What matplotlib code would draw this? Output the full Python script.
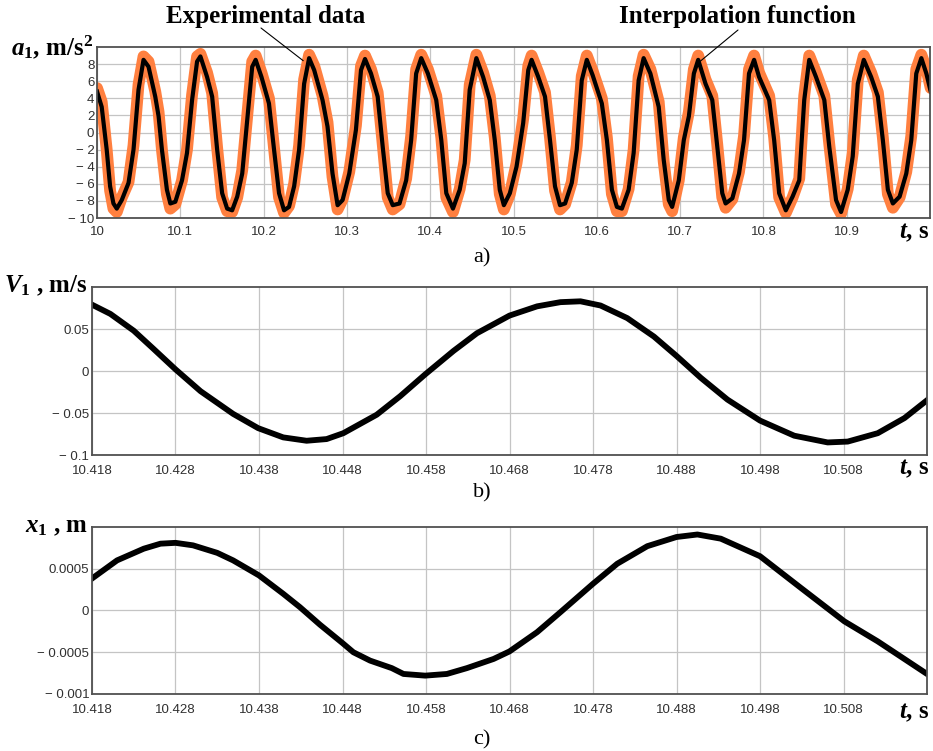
import matplotlib
matplotlib.use("Agg")
import matplotlib.pyplot as plt

plt.rcParams["mathtext.fontset"] = "custom"
plt.rcParams["mathtext.rm"] = "Liberation Serif:bold"
plt.rcParams["mathtext.it"] = "Liberation Serif:italic:bold"
plt.rcParams["mathtext.bf"] = "Liberation Serif:bold"

# ---- a) acceleration: interpolation function (black) and experimental data (orange)
t_acc = [10.0000, 10.0056, 10.0116, 10.0157, 10.0197, 10.0237, 10.0297, 10.0378, 10.0438, 10.0498,
         10.0558, 10.0618, 10.0699, 10.0739, 10.0779, 10.0839, 10.0880, 10.0940, 10.1020, 10.1080,
         10.1141, 10.1201, 10.1241, 10.1321, 10.1382, 10.1442, 10.1502, 10.1562, 10.1622, 10.1683,
         10.1743, 10.1803, 10.1863, 10.1904, 10.1974, 10.2064, 10.2125, 10.2185, 10.2245, 10.2305,
         10.2366, 10.2426, 10.2486, 10.2546, 10.2607, 10.2707, 10.2767, 10.2827, 10.2888, 10.2948,
         10.3028, 10.3108, 10.3169, 10.3217, 10.3289, 10.3369, 10.3430, 10.3490, 10.3550, 10.3631,
         10.3711, 10.3771, 10.3831, 10.3892, 10.3972, 10.4072, 10.4133, 10.4193, 10.4273, 10.4354,
         10.4414, 10.4474, 10.4554, 10.4635, 10.4715, 10.4775, 10.4835, 10.4884, 10.4956, 10.5036,
         10.5116, 10.5177, 10.5217, 10.5297, 10.5378, 10.5438, 10.5498, 10.5558, 10.5619, 10.5699,
         10.5759, 10.5819, 10.5880, 10.5950, 10.6060, 10.6121, 10.6181, 10.6241, 10.6301, 10.6382,
         10.6442, 10.6502, 10.6562, 10.6643, 10.6743, 10.6803, 10.6864, 10.6904, 10.6984, 10.7044,
         10.7105, 10.7165, 10.7217, 10.7305, 10.7386, 10.7446, 10.7506, 10.7546, 10.7627, 10.7707,
         10.7767, 10.7827, 10.7888, 10.7948, 10.8069, 10.8129, 10.8189, 10.8269, 10.8350, 10.8430,
         10.8490, 10.8550, 10.8631, 10.8731, 10.8791, 10.8872, 10.8932, 10.9012, 10.9072, 10.9133,
         10.9205, 10.9293, 10.9374, 10.9434, 10.9494, 10.9554, 10.9635, 10.9715, 10.9775, 10.9835,
         10.9896, 10.9956, 11.0008]
a_interp = [4.8, 3.0, -2.0, -6.3, -8.3, -8.9, -7.9, -5.9, -2.0, 5.0,
            8.5, 7.7, 4.2, 1.9, -2.0, -6.7, -8.3, -8.1, -5.6, -2.4,
            3.8, 8.3, 8.9, 6.5, 4.2, -2.0, -7.1, -8.9, -9.1, -7.5,
            -4.8, 1.5, 7.7, 8.5, 6.5, 3.4, -2.0, -7.1, -9.1, -8.7,
            -6.3, -2.0, 5.7, 8.7, 7.3, 3.8, 0.7, -4.8, -8.5, -7.9,
            -4.8, 0.3, 7.3, 8.6, 6.9, 4.2, -1.7, -7.1, -8.5, -8.3,
            -5.6, -0.9, 6.9, 8.7, 6.9, 3.8, -0.9, -7.1, -8.9, -6.7,
            -3.6, 5.0, 8.7, 6.5, 3.8, -0.9, -6.7, -8.5, -7.1, -4.0,
            1.1, 7.3, 8.5, 6.5, 4.2, -0.9, -6.3, -8.5, -8.3, -5.9,
            -2.0, 6.1, 8.5, 6.7, 3.4, -0.9, -6.7, -8.7, -8.9, -6.7,
            -2.4, 6.1, 8.7, 6.9, 3.0, -3.2, -7.9, -8.7, -5.6, -0.9,
            1.9, 6.9, 8.5, 5.7, 3.8, -1.7, -7.1, -8.3, -7.7, -4.8,
            -0.9, 6.9, 8.5, 6.5, 3.8, -0.9, -7.1, -9.1, -7.5, -5.6,
            3.8, 8.5, 6.5, 3.8, -1.7, -7.9, -9.3, -6.7, -2.8, 5.7,
            8.5, 6.5, 4.2, -0.9, -6.7, -8.3, -7.5, -4.8, -0.9, 6.9,
            8.7, 6.9, 4.8]
a_exper = [5.2, 3.6, -2.0, -6.8, -8.9, -9.3, -7.6, -5.8, -1.5, 5.6,
           8.9, 8.3, 4.8, 2.4, -2.0, -7.2, -8.9, -8.4, -5.6, -2.0,
           4.4, 8.9, 9.2, 7.0, 4.6, -1.8, -7.6, -9.2, -9.3, -7.6,
           -4.4, 2.0, 8.3, 9.0, 7.0, 4.0, -1.8, -7.6, -9.4, -8.6,
           -6.0, -1.5, 6.2, 9.1, 7.8, 4.3, 1.2, -5.2, -9.0, -7.8,
           -4.6, 0.8, 7.8, 9.0, 7.4, 4.7, -1.4, -7.6, -9.0, -8.4,
           -5.4, -0.4, 7.4, 9.1, 7.4, 4.3, -0.6, -7.6, -9.3, -6.6,
           -3.2, 5.6, 9.1, 7.0, 4.3, -0.6, -7.2, -9.0, -7.2, -3.6,
           1.6, 7.8, 9.0, 7.0, 4.7, -0.6, -6.8, -9.0, -8.4, -5.8,
           -1.5, 6.6, 9.0, 7.2, 4.0, -0.6, -7.2, -9.2, -9.2, -6.6,
           -2.0, 6.6, 9.1, 7.4, 3.6, -3.4, -8.4, -9.2, -5.6, -0.6,
           2.4, 7.4, 9.0, 6.2, 4.3, -1.4, -7.6, -8.8, -7.8, -4.6,
           -0.4, 7.4, 9.0, 7.0, 4.3, -0.6, -7.6, -9.4, -7.6, -5.4,
           4.3, 9.0, 7.0, 4.3, -1.4, -8.4, -9.5, -6.6, -2.4, 6.2,
           9.0, 7.0, 4.7, -0.6, -7.2, -8.8, -7.6, -4.6, -0.4, 7.4,
           9.1, 7.4, 5.2]

# ---- b) velocity
t_vel = [10.4180, 10.4202, 10.4230, 10.4253, 10.4280, 10.4310, 10.4349, 10.4379, 10.4409, 10.4437,
         10.4461, 10.4481, 10.4521, 10.4549, 10.4579, 10.4613, 10.4641, 10.4680, 10.4713, 10.4741,
         10.4765, 10.4789, 10.4821, 10.4853, 10.4880, 10.4909, 10.4941, 10.4980, 10.5021, 10.5061,
         10.5085, 10.5121, 10.5153, 10.5181]
v1 = [0.079, 0.068, 0.048, 0.027, 0.002, -0.024, -0.051, -0.068, -0.079, -0.083,
      -0.081, -0.074, -0.052, -0.030, -0.004, 0.024, 0.045, 0.066, 0.077, 0.082,
      0.083, 0.078, 0.063, 0.041, 0.018, -0.008, -0.034, -0.059, -0.077, -0.085,
      -0.084, -0.074, -0.056, -0.034]

# ---- c) displacement
t_disp = [10.4181, 10.4210, 10.4242, 10.4262, 10.4280, 10.4301, 10.4330, 10.4349, 10.4380, 10.4409,
          10.4429, 10.4453, 10.4480, 10.4493, 10.4513, 10.4539, 10.4553, 10.4579, 10.4605, 10.4629,
          10.4661, 10.4680, 10.4713, 10.4741, 10.4780, 10.4809, 10.4845, 10.4880, 10.4905, 10.4933,
          10.4980, 10.5029, 10.5081, 10.5121, 10.5180]
x1 = [0.00039, 0.00060, 0.00074, 0.00080, 0.00081, 0.00078, 0.00069, 0.00060, 0.00042, 0.00020,
      0.00004, -0.00017, -0.00039, -0.00050, -0.00060, -0.00069, -0.00076, -0.00078, -0.00076, -0.00069,
      -0.00058, -0.00049, -0.00026, -0.00002, 0.00032, 0.00056, 0.00077, 0.00088, 0.00091, 0.00086,
      0.00065, 0.00027, -0.00013, -0.00037, -0.00076]

a_xticks = [10.0, 10.1, 10.2, 10.3, 10.4, 10.5, 10.6, 10.7, 10.8, 10.9]
a_xlabels = ["10", "10.1", "10.2", "10.3", "10.4", "10.5", "10.6", "10.7", "10.8", "10.9"]
a_yticks = [8, 6, 4, 2, 0, -2, -4, -6, -8, -10]
bc_xticks = [10.418, 10.428, 10.438, 10.448, 10.458, 10.468, 10.478, 10.488, 10.498, 10.508]
b_yticks = [0.05, 0, -0.05, -0.1]
b_ylabels = ["0.05", "0", "\u2212 0.05", "\u2212 0.1"]
c_yticks = [0.0005, 0, -0.0005, -0.001]
c_ylabels = ["0.0005", "0", "\u2212 0.0005", "\u2212 0.001"]

TICK_COLOR = "#303030"
SERIF = "Liberation Serif"
SANS = "Liberation Sans"


def style_axes(ax):
    ax.grid(True, color="#c4c4c4", lw=0.9)
    ax.set_axisbelow(True)
    for s in ax.spines.values():
        s.set_color("#505050")
        s.set_linewidth(1.3)
    ax.tick_params(length=0, pad=2, labelsize=9.5, colors=TICK_COLOR)
    ax.tick_params(axis="x", pad=7)
    for lab in ax.get_xticklabels() + ax.get_yticklabels():
        lab.set_fontfamily(SANS)


fig = plt.figure(figsize=(9.33, 7.51), dpi=100)

# a)
ax1 = fig.add_axes([0.1040, 0.7097, 0.8928, 0.2277])
ax1.plot(t_acc, a_exper, color="#ff8040", lw=8.5, solid_joinstyle="round", solid_capstyle="round")
ax1.plot(t_acc, a_interp, color="black", lw=3.0, solid_joinstyle="round")
ax1.set_xlim(10.0, 11.0)
ax1.set_ylim(-10, 10)
ax1.set_xticks(a_xticks)
ax1.set_xticklabels(a_xlabels)
ax1.set_yticks(a_yticks)
ax1.set_yticklabels([str(v) if v >= 0 else "\u2212 " + str(-v) for v in a_yticks])
style_axes(ax1)
ax1.tick_params(axis="x", pad=6)

# b)
ax2 = fig.add_axes([0.0986, 0.3941, 0.8950, 0.2237])
ax2.plot(t_vel, v1, color="black", lw=4.2, solid_joinstyle="round")
ax2.set_xlim(10.418, 10.518)
ax2.set_ylim(-0.1, 0.1)
ax2.set_xticks(bc_xticks)
ax2.set_xticklabels([f"{v:.3f}" for v in bc_xticks])
ax2.set_yticks(b_yticks)
ax2.set_yticklabels(b_ylabels)
style_axes(ax2)

# c)
ax3 = fig.add_axes([0.0986, 0.0759, 0.8950, 0.2224])
ax3.plot(t_disp, x1, color="black", lw=4.2, solid_joinstyle="round")
ax3.set_xlim(10.418, 10.518)
ax3.set_ylim(-0.001, 0.001)
ax3.set_xticks(bc_xticks)
ax3.set_xticklabels([f"{v:.3f}" for v in bc_xticks])
ax3.set_yticks(c_yticks)
ax3.set_yticklabels(c_ylabels)
style_axes(ax3)

# axis captions (pixel positions converted to figure fraction)
W, H = 933.0, 751.0
lab = dict(fontfamily=SERIF, fontweight="bold", fontsize=18)
fig.text(93 / W, 1 - 47 / H, r"$\mathit{a}_\mathrm{1}$, m/s$^\mathrm{2}$", ha="right", va="center", **lab)
fig.text(88 / W, 1 - 286 / H, r"$\mathit{V}_\mathrm{1}$ , m/s", ha="right", va="center", **lab)
fig.text(88 / W, 1 - 526 / H, r"$\mathit{x}_\mathrm{1}$ , m", ha="right", va="center", **lab)
for ypx in (232, 469, 713):
    fig.text(929 / W, 1 - ypx / H, r"$\mathit{t}$, s", ha="right", va="center", **lab)

panel = dict(fontfamily=SERIF, fontsize=16, ha="center", va="center")
fig.text(482 / W, 1 - 258 / H, "a)", **panel)
fig.text(482 / W, 1 - 493 / H, "b)", **panel)
fig.text(482 / W, 1 - 740 / H, "c)", **panel)

# callouts
fig.text(266 / W, 1 - 16 / H, "Experimental data", ha="center", va="center", **lab)
fig.text(737 / W, 1 - 16 / H, "Interpolation function", ha="center", va="center", **lab)
ax1.annotate("", xy=(10.2475, 8.4), xycoords="data",
             xytext=(261 / W, 1 - 28 / H), textcoords="figure fraction",
             arrowprops=dict(arrowstyle="-", color="black", lw=0.8, shrinkA=0, shrinkB=0),
             annotation_clip=False)
ax1.annotate("", xy=(10.7225, 8.2), xycoords="data",
             xytext=(738 / W, 1 - 30 / H), textcoords="figure fraction",
             arrowprops=dict(arrowstyle="-", color="black", lw=0.8, shrinkA=0, shrinkB=0),
             annotation_clip=False)

fig.savefig("out.png", dpi=100, facecolor="white")
